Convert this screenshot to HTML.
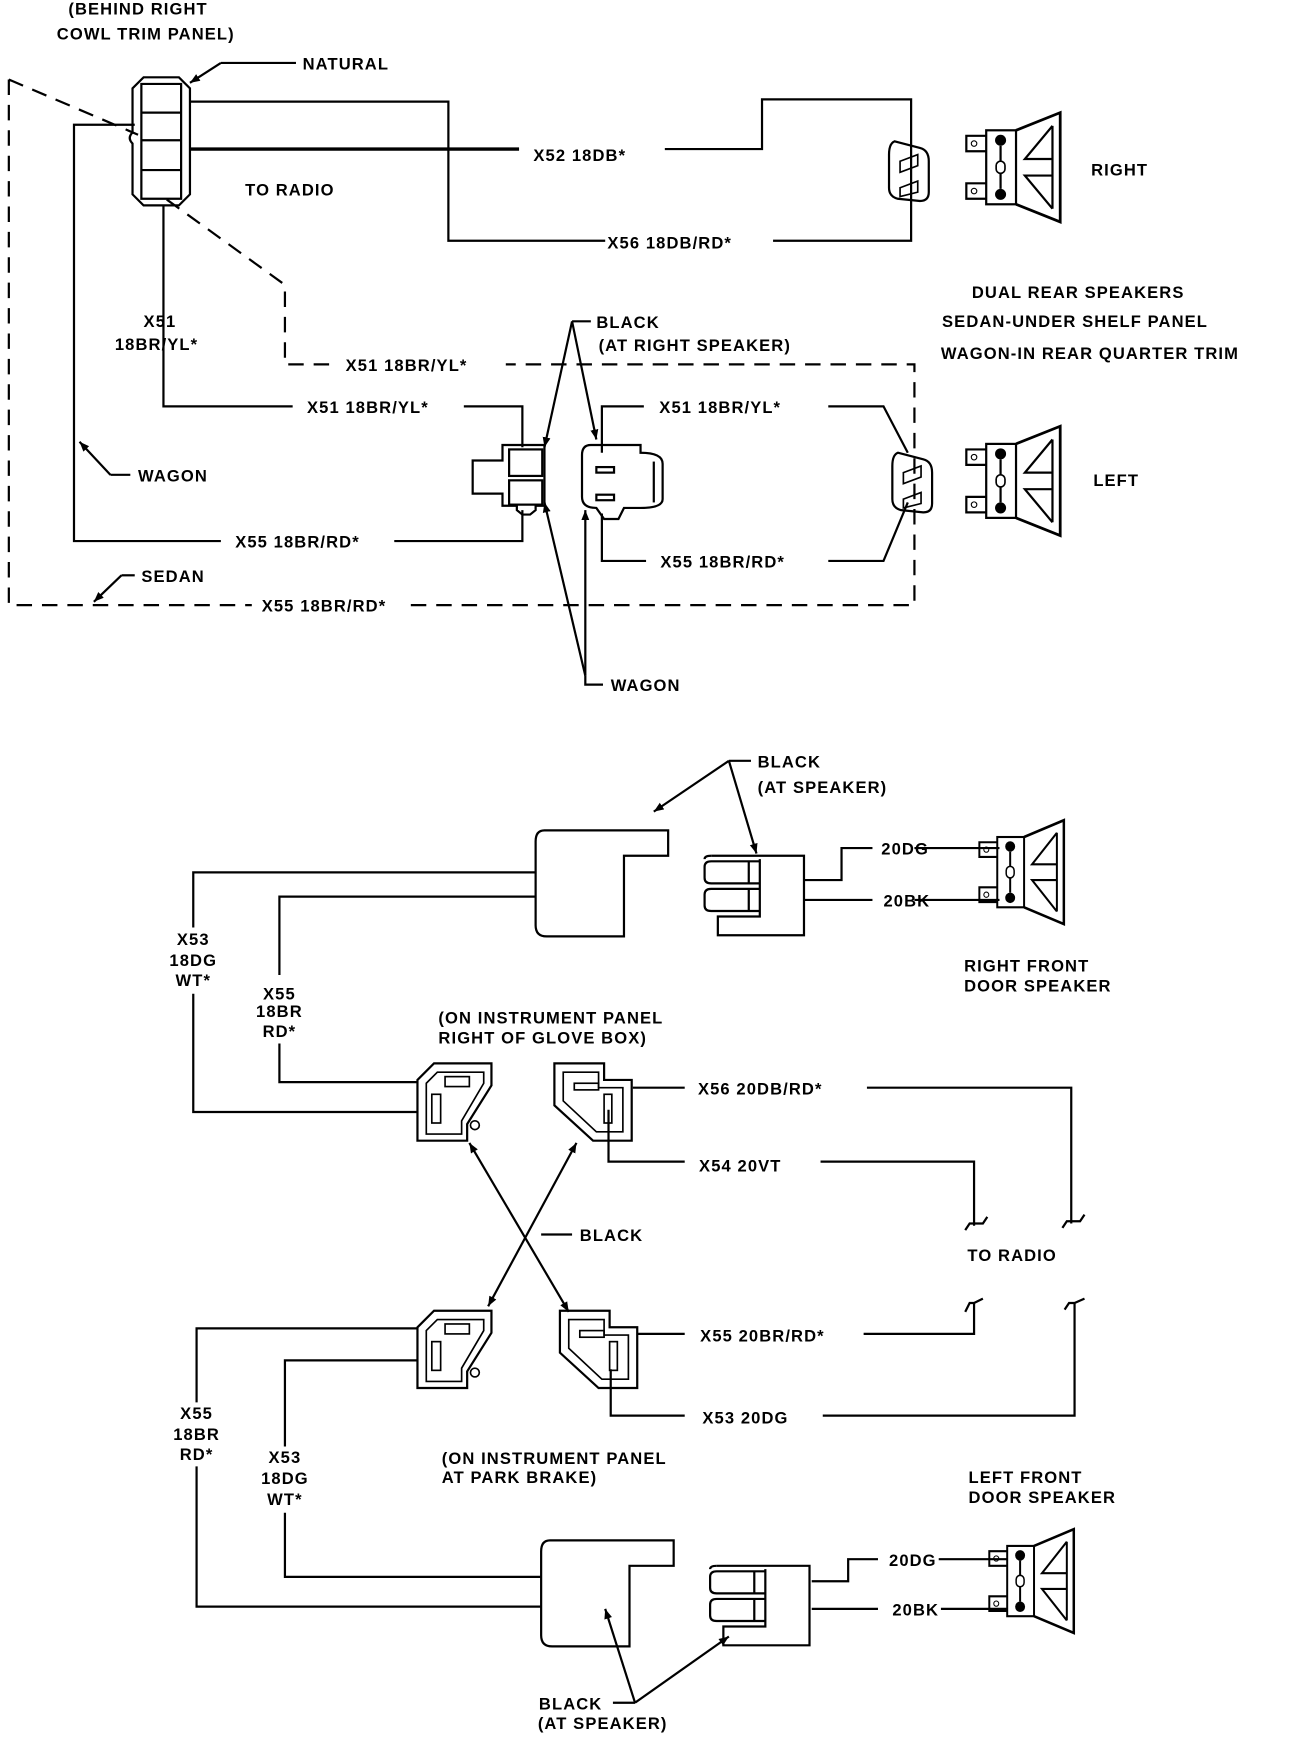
<!DOCTYPE html>
<html><head><meta charset="utf-8"><style>
html,body{margin:0;padding:0;background:#fff;}
svg{display:block}
text{font-family:"Liberation Sans",sans-serif;font-size:15px;font-weight:bold;fill:#000;letter-spacing:1px}
</style></head><body>
<svg width="1312" height="1748" viewBox="0 0 1188 1583" preserveAspectRatio="none" xmlns="http://www.w3.org/2000/svg">
<defs>
<marker id="a" viewBox="0 0 10 10" refX="10" refY="5" markerWidth="9" markerHeight="9" orient="auto-start-reverse" markerUnits="userSpaceOnUse"><path d="M0,1 L10,5 L0,9 z" fill="#000"/></marker>
<g id="spk">
<rect x="0" y="0" width="27" height="67" fill="none" stroke="#000" stroke-width="2"/>
<circle cx="13" cy="9" r="5"/><circle cx="13" cy="58" r="5"/>
<path d="M13,14 V28 M13,39 V53" stroke="#000" stroke-width="2"/>
<rect x="9" y="28" width="8" height="11" rx="4" fill="none" stroke="#000" stroke-width="1.5"/>
<path d="M0,5 h-18 v14 h18 M0,48 h-18 v14 h18" fill="none" stroke="#000" stroke-width="2"/>
<circle cx="-11" cy="12" r="2.5" fill="none" stroke="#000"/><circle cx="-11" cy="55" r="2.5" fill="none" stroke="#000"/>
<path d="M27,0 L67,-16 V83 L27,67" fill="none" stroke="#000" stroke-width="2.5"/>
<path d="M60,-4 V71 M60,-4 L35,26 H60 M60,41 H35 L60,71" fill="none" stroke="#000" stroke-width="2"/>
</g>
<g id="plug">
<path d="M5,0 L28,6 Q36,8 36,18 V46 Q36,54 28,54 L8,52 Q0,50 0,42 V12 Q0,2 5,0z" fill="none" stroke="#000" stroke-width="2"/>
<path d="M10,18 L26,12 V22 L10,28z M10,42 L26,36 V46 L10,50z" fill="none" stroke="#000" stroke-width="1.5"/>
</g>
<g id="cl">
<path d="M0,15 L15,0 H67 V20 L45,55 V70 H0z" fill="none" stroke="#000" stroke-width="2"/>
<path d="M8,18 L18,8 H60 V18 L40,52 V64 H8z" fill="none" stroke="#000" stroke-width="1.5"/>
<rect x="25" y="12" width="22" height="9" fill="none" stroke="#000" stroke-width="1.5"/>
<rect x="13" y="28" width="8" height="26" fill="none" stroke="#000" stroke-width="1.5"/>
<circle cx="52" cy="56" r="4" fill="none" stroke="#000" stroke-width="1.5"/>
</g>
<g id="cr">
<path d="M0,0 H45 V15 H70 V70 H35 L0,38z" fill="none" stroke="#000" stroke-width="2"/>
<path d="M8,8 H40 V22 H62 V62 H38 L8,34z" fill="none" stroke="#000" stroke-width="1.5"/>
<rect x="18" y="18" width="22" height="6" fill="none" stroke="#000" stroke-width="1.5"/>
<rect x="45" y="28" width="7" height="26" fill="none" stroke="#000" stroke-width="1.5"/>
</g>
<g id="big">
<path d="M8,0 H120 V23 H80 V96 H10 Q0,96 0,86 V10 Q0,0 8,0z" fill="none" stroke="#000" stroke-width="2"/>
</g>
<g id="sm">
<path d="M6,0 H90 V72 H12 V55 H50 V3" fill="none" stroke="#000" stroke-width="2"/>
<path d="M6,0 Q0,0 0,3" fill="none" stroke="#000" stroke-width="2"/>
<path d="M50,5 H6 Q0,5 0,10 V20 Q0,25 6,25 H50 M50,30 H6 Q0,30 0,35 V45 Q0,50 6,50 H50 M40,5 V25 M40,30 V50" fill="none" stroke="#000" stroke-width="2"/>
</g>
</defs>

<g fill="none" stroke="#000" stroke-width="2">
<path d="M130,70 H162 L172,80 V176 L162,186 H130 L120,176 V130 Q115,125 120,120 V80z"/>
<path d="M128,76 H164 V180 H128z M128,102 H164 M128,127 H164 M128,154 H164"/>
<path d="M268,57 H200" /><path d="M200,57 L172,75" marker-end="url(#a)"/>
<path d="M172,92 H406 V218 H548 M700,218 H825 V90 H690 V135 H602"/>
<path d="M172,135 H470" stroke-width="3"/>
<path d="M8,72 L125,122 M8,72 V548 H228 M372,548 H828 V330 H458 M298,330 H258 V258 L150,180" stroke-dasharray="14,9"/>
<path d="M148,186 V368 H265 M420,368 H473 V405"/>
<path d="M122,113 H67 V490 H200 M357,490 H473 V462"/>
<path d="M118,430 H100"/><path d="M100,430 L72,400" marker-end="url(#a)"/>
<path d="M122,521 H110"/><path d="M110,521 L85,545" marker-end="url(#a)"/>
<path d="M455,403 H493 V458 H485 V462 L480,466 H473 L468,462 V458 H455 V447 H428 V417 H455z"/>
<rect x="461" y="407" width="30" height="24"/><rect x="461" y="435" width="30" height="22"/>
<path d="M535,403 H580 V410 Q600,410 600,420 V452 Q600,460 580,460 H565 L560,470 H547 L540,460 Q527,460 527,450 V412 Q527,403 535,403z"/>
<path d="M592,418 V455"/>
<rect x="540" y="423" width="16" height="5"/><rect x="540" y="448" width="16" height="5"/>
<path d="M545,410 V368 H583 M750,368 H800 L822,410 M545,465 V508 H585 M750,508 H800 L822,455"/>
<path d="M535,291 H518"/>
<path d="M518,291 L493,405" marker-end="url(#a)"/><path d="M518,291 L540,398" marker-end="url(#a)"/>
<path d="M546,620 H530 V612"/>
<path d="M530,612 L493,455" marker-end="url(#a)"/><path d="M530,612 L530,462" marker-end="url(#a)"/>

<path d="M660,689 H680"/>
<path d="M660,689 L592,735" marker-end="url(#a)"/><path d="M660,689 L685,773" marker-end="url(#a)"/>
<path d="M728,797 H762 V768 H790 M828,768 H905 M728,815 H790 M828,815 H905"/>
<path d="M485,790 H175 V840 M175,900 V1007 H378 M485,812 H253 V883 M253,945 V980 H378"/>
<path d="M573,985 H620 M785,985 H970 V1108 M551,1005 V1052 H620 M743,1052 H882 V1110"/>
<path d="M874,1114 L878,1108 H890 L894,1102 M962,1112 L966,1106 H978 L982,1100"/>
<path d="M874,1188 L878,1180 H882 V1208 H782 M882,1180 L890,1176 M964,1186 L968,1180 H973 V1282 H745 M973,1180 L982,1176"/>
<path d="M577,1208 H620 M553,1240 V1282 H620"/>
<path d="M518,1118 H490"/>
<path d="M515,1188 L425,1035" marker-start="url(#a)" marker-end="url(#a)"/>
<path d="M442,1183 L522,1035" marker-start="url(#a)" marker-end="url(#a)"/>
<path d="M378,1203 H178 V1270 M178,1328 V1455 H490 M378,1232 H258 V1310 M258,1370 V1428 H490"/>
<path d="M735,1432 H768 V1412 H795 M850,1412 H912 M735,1457 H795 M852,1457 H912"/>
<path d="M555,1542 H575"/>
<path d="M575,1542 L548,1457" marker-end="url(#a)"/><path d="M575,1542 L660,1482" marker-end="url(#a)"/>
</g>

<use href="#plug" x="805" y="128"/>
<use href="#plug" x="808" y="410"/>
<use href="#spk" x="893" y="118"/>
<use href="#spk" x="893" y="402"/>
<g transform="translate(903,758) scale(0.9,0.95)"><use href="#spk"/></g>
<g transform="translate(912,1400) scale(0.9,0.95)"><use href="#spk"/></g>
<use href="#big" x="485" y="752"/>
<use href="#sm" x="638" y="775"/>
<use href="#big" x="490" y="1395"/>
<use href="#sm" x="643" y="1418"/>
<use href="#cl" x="378" y="963"/>
<use href="#cr" x="502" y="963"/>
<use href="#cl" x="378" y="1187"/>
<use href="#cr" x="507" y="1187"/>

<g>
<text x="125" y="13" text-anchor="middle">(BEHIND RIGHT</text>
<text x="132" y="36" text-anchor="middle">COWL TRIM PANEL)</text>
<text x="274" y="63">NATURAL</text>
<text x="222" y="177">TO RADIO</text>
<text x="483" y="146">X52 18DB*</text>
<text x="550" y="225">X56 18DB/RD*</text>
<text x="988" y="159">RIGHT</text>
<text x="880" y="270">DUAL REAR SPEAKERS</text>
<text x="853" y="296">SEDAN-UNDER SHELF PANEL</text>
<text x="852" y="325">WAGON-IN REAR QUARTER TRIM</text>
<text x="540" y="297">BLACK</text>
<text x="542" y="318">(AT RIGHT SPEAKER)</text>
<text x="130" y="296">X51</text>
<text x="104" y="317">18BR/YL*</text>
<text x="313" y="336">X51 18BR/YL*</text>
<text x="278" y="374">X51 18BR/YL*</text>
<text x="597" y="374">X51 18BR/YL*</text>
<text x="598" y="514">X55 18BR/RD*</text>
<text x="213" y="496">X55 18BR/RD*</text>
<text x="237" y="554">X55 18BR/RD*</text>
<text x="125" y="436">WAGON</text>
<text x="128" y="527">SEDAN</text>
<text x="553" y="626">WAGON</text>
<text x="990" y="440">LEFT</text>

<text x="686" y="695">BLACK</text>
<text x="686" y="718">(AT SPEAKER)</text>
<text x="798" y="774">20DG</text>
<text x="800" y="821">20BK</text>
<text x="873" y="880">RIGHT FRONT</text>
<text x="873" y="898">DOOR SPEAKER</text>
<text x="175" y="856" text-anchor="middle">X53</text>
<text x="175" y="875" text-anchor="middle">18DG</text>
<text x="175" y="893" text-anchor="middle">WT*</text>
<text x="253" y="905" text-anchor="middle">X55</text>
<text x="253" y="921" text-anchor="middle">18BR</text>
<text x="253" y="939" text-anchor="middle">RD*</text>
<text x="397" y="927">(ON INSTRUMENT PANEL</text>
<text x="397" y="945">RIGHT OF GLOVE BOX)</text>
<text x="632" y="991">X56 20DB/RD*</text>
<text x="633" y="1061">X54 20VT</text>
<text x="525" y="1124">BLACK</text>
<text x="876" y="1142">TO RADIO</text>
<text x="634" y="1215">X55 20BR/RD*</text>
<text x="636" y="1289">X53 20DG</text>
<text x="178" y="1285" text-anchor="middle">X55</text>
<text x="178" y="1304" text-anchor="middle">18BR</text>
<text x="178" y="1322" text-anchor="middle">RD*</text>
<text x="258" y="1325" text-anchor="middle">X53</text>
<text x="258" y="1344" text-anchor="middle">18DG</text>
<text x="258" y="1363" text-anchor="middle">WT*</text>
<text x="400" y="1326">(ON INSTRUMENT PANEL</text>
<text x="400" y="1343">AT PARK BRAKE)</text>
<text x="877" y="1343">LEFT FRONT</text>
<text x="877" y="1361">DOOR SPEAKER</text>
<text x="805" y="1418">20DG</text>
<text x="808" y="1463">20BK</text>
<text x="488" y="1548">BLACK</text>
<text x="487" y="1566">(AT SPEAKER)</text>
</g>
</svg>
</body></html>
